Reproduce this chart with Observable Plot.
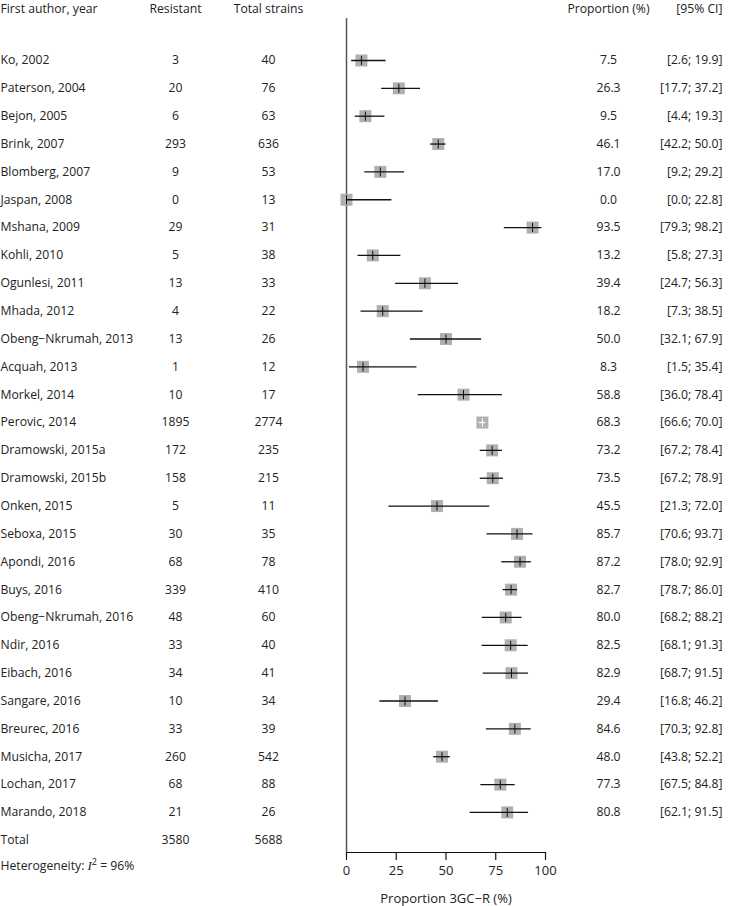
<!DOCTYPE html>
<html><head><meta charset="utf-8">
<script src="https://cdn.jsdelivr.net/npm/d3@7"></script>
<script src="https://cdn.jsdelivr.net/npm/@observablehq/plot@0.6"></script>
<style>body{margin:0;background:#fff}</style>
</head><body><div id="chart"></div>
<script>
const studies = ["Ko, 2002","Paterson, 2004","Bejon, 2005","Brink, 2007","Blomberg, 2007","Jaspan, 2008","Mshana, 2009","Kohli, 2010","Ogunlesi, 2011","Mhada, 2012","Obeng−Nkrumah, 2013","Acquah, 2013","Morkel, 2014","Perovic, 2014","Dramowski, 2015a","Dramowski, 2015b","Onken, 2015","Seboxa, 2015","Apondi, 2016","Buys, 2016","Obeng−Nkrumah, 2016","Ndir, 2016","Eibach, 2016","Sangare, 2016","Breurec, 2016","Musicha, 2017","Lochan, 2017","Marando, 2018"];
const resistant = [3,20,6,293,9,0,29,5,13,4,13,1,10,1895,172,158,5,30,68,339,48,33,34,10,33,260,68,21];
const totalStrains = [40,76,63,636,53,13,31,38,33,22,26,12,17,2774,235,215,11,35,78,410,60,40,41,34,39,542,88,26];
const proportion = [7.5,26.3,9.5,46.1,17.0,0.0,93.5,13.2,39.4,18.2,50.0,8.3,58.8,68.3,73.2,73.5,45.5,85.7,87.2,82.7,80.0,82.5,82.9,29.4,84.6,48.0,77.3,80.8];
const ciLow = [2.6,17.7,4.4,42.2,9.2,0.0,79.3,5.8,24.7,7.3,32.1,1.5,36.0,66.6,67.2,67.2,21.3,70.6,78.0,78.7,68.2,68.1,68.7,16.8,70.3,43.8,67.5,62.1];
const ciHigh = [19.9,37.2,19.3,50.0,29.2,22.8,98.2,27.3,56.3,38.5,67.9,35.4,78.4,70.0,78.4,78.9,72.0,93.7,92.9,86.0,88.2,91.3,91.5,46.2,92.8,52.2,84.8,91.5];
const totalLabel = "Total";
const totalResistant = 3580;
const totalAll = 5688;
const heterogeneityText = "Heterogeneity: I² = 96%";
const headers = ["First author, year","Resistant","Total strains","Proportion (%)","[95% CI]"];
const xTicks = [0,25,50,75,100];
const axisLabel = "Proportion 3GC−R (%)";

const rows = studies.map((s, i) => ({
  i, study: s, r: String(resistant[i]), n: String(totalStrains[i]), p: proportion[i], lo: ciLow[i], hi: ciHigh[i]
}));

const yTop = -1.508, yBottom = 28.44;
const headerRow = -1.86, totalRow = 28, hetRow = 28.93;
const W = 732, H = 906, mL = 346, mR = 187;
const pxPerUnit = (W - mL - mR) / 100;
const squareSide = 12;

const fmt1 = v => v.toFixed(1);
const colText = "#222";

function col(data, opts) {
  return Plot.text(data, {fill: colText, lineAnchor: "middle", ...opts});
}

const headerData = headers.map((h, k) => ({h, k}));
const headerCols = [
  {frameAnchor: "left", dx: -mL, textAnchor: "start"},
  {frameAnchor: "left", dx: 175 - mL, textAnchor: "middle"},
  {frameAnchor: "left", dx: 268 - mL, textAnchor: "middle"},
  {frameAnchor: "right", dx: 608 - (W - mR), textAnchor: "middle"},
  {frameAnchor: "right", dx: 722 - (W - mR), textAnchor: "end"}
];

const vtick = {
  draw(context, size) {
    const h = Math.sqrt(size / Math.PI);
    context.moveTo(0, -h);
    context.lineTo(0, h);
  }
};

const inside = d => (d.hi - d.lo) * pxPerUnit < squareSide;

const chart = Plot.plot({
  width: W, height: H,
  marginLeft: mL, marginRight: mR, marginTop: 18, marginBottom: H - 852,
  style: {fontFamily: "'Open Sans', sans-serif", fontSize: "12.2px", color: colText, background: "#fff", overflow: "visible"},
  x: {domain: [0, 100]},
  y: {domain: [yTop, yBottom], reverse: true, axis: null},
  marks: [
    ...headerCols.map((c, k) => col([headerData[k]], {y: () => headerRow, text: "h", ...c})),
    col(rows, {y: "i", text: "study", ...headerCols[0]}),
    col(rows, {y: "i", text: "r", ...headerCols[1]}),
    col(rows, {y: "i", text: "n", ...headerCols[2]}),
    col(rows, {y: "i", text: d => fmt1(d.p), ...headerCols[3]}),
    col(rows, {y: "i", text: d => `[${fmt1(d.lo)}; ${fmt1(d.hi)}]`, ...headerCols[4]}),
    col([{t: totalLabel}], {y: () => totalRow, text: "t", ...headerCols[0]}),
    col([{a: String(totalResistant)}], {y: () => totalRow, text: "a", ...headerCols[1]}),
    col([{b: String(totalAll)}], {y: () => totalRow, text: "b", ...headerCols[2]}),
    col([{t: heterogeneityText}], {y: () => hetRow, text: "t", ...headerCols[0]}),
    Plot.ruleX([0], {y1: yTop, y2: yBottom, stroke: "#555", strokeWidth: 1.5}),
    Plot.ruleY([yBottom], {x1: 0, x2: 100, stroke: "#111", strokeWidth: 1.2}),
    Plot.axisX({ticks: xTicks, tickSize: 8, tickPadding: 5, stroke: "#111", strokeWidth: 1.2,
      fontSize: 13, fill: colText, label: axisLabel, labelAnchor: "center", labelArrow: "none", labelOffset: 50}),
    Plot.dot(rows, {x: "p", y: "i", symbol: "square", r: squareSide / Math.sqrt(Math.PI), fill: "#b0b0b0", stroke: null}),
    Plot.ruleY(rows, {y: "i", x1: "lo", x2: "hi", stroke: d => inside(d) ? "#ffffff" : "#111111", strokeWidth: 1.3}),
    Plot.dot(rows, {x: "p", y: "i", symbol: vtick, r: 4.6, fill: "none", stroke: d => inside(d) ? "#ffffff" : "#111111", strokeWidth: 1})
  ]
});

chart.querySelectorAll("text").forEach(t => {
  if (t.textContent === heterogeneityText) {
    const parts = heterogeneityText.split("I²");
    const ns = "http://www.w3.org/2000/svg";
    while (t.firstChild) t.removeChild(t.firstChild);
    t.appendChild(document.createTextNode(parts[0]));
    const ti = document.createElementNS(ns, "tspan");
    ti.setAttribute("font-style", "italic");
    ti.setAttribute("font-family", "'Liberation Serif', serif");
    ti.setAttribute("font-size", "13");
    ti.textContent = "I";
    t.appendChild(ti);
    const ts = document.createElementNS(ns, "tspan");
    ts.setAttribute("dy", "-5");
    ts.setAttribute("font-size", "9");
    ts.textContent = "2";
    t.appendChild(ts);
    const tr = document.createElementNS(ns, "tspan");
    tr.setAttribute("dy", "5");
    tr.textContent = parts[1];
    t.appendChild(tr);
  }
});

document.getElementById("chart").appendChild(chart);
</script>
</body></html>
